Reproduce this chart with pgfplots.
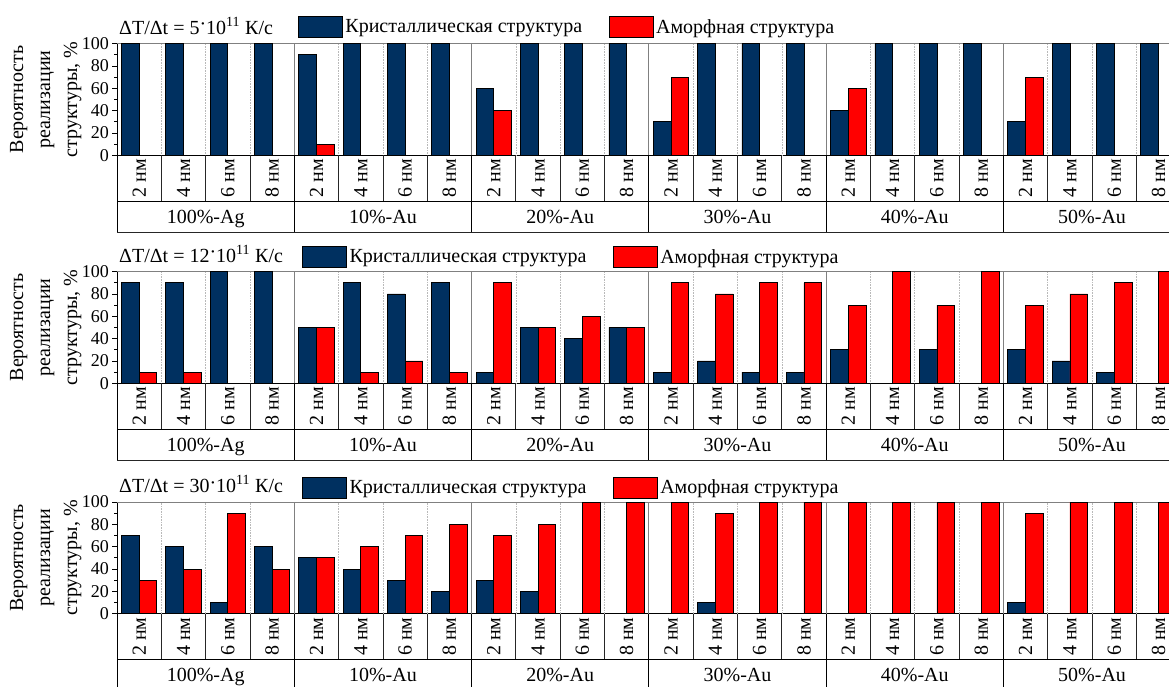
\documentclass[border=0pt]{standalone}
\usepackage{fontspec}
\setmainfont{Liberation Serif}
\usepackage{pgfplots}
\pgfplotsset{compat=1.18}
\usepackage{pgfplotstable}

\definecolor{navy}{RGB}{0,48,96}
\definecolor{ared}{RGB}{255,0,0}

% x: category index, c: crystalline, a: amorphous
\pgfplotstableread{
x c a
0 100 0
1 100 0
2 100 0
3 100 0
4 90 10
5 100 0
6 100 0
7 100 0
8 60 40
9 100 0
10 100 0
11 100 0
12 30 70
13 100 0
14 100 0
15 100 0
16 40 60
17 100 0
18 100 0
19 100 0
20 30 70
21 100 0
22 100 0
23 100 0
}\tabA

\pgfplotstableread{
x c a
0 90 10
1 90 10
2 100 0
3 100 0
4 50 50
5 90 10
6 80 20
7 90 10
8 10 90
9 50 50
10 40 60
11 50 50
12 10 90
13 20 80
14 10 90
15 10 90
16 30 70
17 0 100
18 30 70
19 0 100
20 30 70
21 20 80
22 10 90
23 0 100
}\tabB

\pgfplotstableread{
x c a
0 70 30
1 60 40
2 10 90
3 60 40
4 50 50
5 40 60
6 30 70
7 20 80
8 30 70
9 20 80
10 0 100
11 0 100
12 0 100
13 10 90
14 0 100
15 0 100
16 0 100
17 0 100
18 0 100
19 0 100
20 10 90
21 0 100
22 0 100
23 0 100
}\tabC

\newcommand{\fs}{\fontsize{20}{24}\selectfont}

\pgfplotsset{
  panel/.style={
    scale only axis, width=1052pt, height=111.7pt,
    anchor=south west,
    xmin=-0.5, xmax=23.236, ymin=0, ymax=100,
    ybar=0pt, bar width=17.7pt,
    clip mode=individual,
    axis x line*=bottom, axis y line*=left,
    axis line style={black, line width=0.8pt},
    tick align=outside,
    ytick={0,20,40,60,80,100}, minor y tick num=1,
    major tick length=5pt, minor tick length=3pt,
    ytick style={black, line width=0.8pt},
    xtick=\empty,
    yticklabel style={font=\fontsize{18}{20}\selectfont, inner sep=3pt},
    /pgf/number format/assume math mode=true,
    ylabel={Вероятность\\реализации\\структуры, \%},
    every axis y label/.style={at={(axis description cs:-0.0335,0.5)}, rotate=90, anchor=south, align=center, inner sep=0pt, font=\fontsize{20}{27}\selectfont},
    legend columns=2,
    legend style={anchor=west, draw=none, fill=none, inner sep=0pt, font=\fs,
      nodes={inner sep=2.5pt},
      /tikz/every even column/.append style={column sep=24pt}},
    every axis plot post/.append style={
      legend image code/.code={\draw[##1, line width=0.8pt] (0pt,-10.5pt) rectangle (44pt,10.5pt);}},
  },
  crys/.style={fill=navy, draw=black, line width=0.8pt},
  amor/.style={fill=ared, draw=black, line width=0.8pt},
}

\tikzset{catlab/.style={rotate=90, anchor=center, font=\fs, inner sep=0pt}}

\newcommand{\tablelines}{%
  \pgfplotsinvokeforeach{0.5,1.5,2.5,4.5,5.5,6.5,8.5,9.5,10.5,12.5,13.5,14.5,16.5,17.5,18.5,20.5,21.5,22.5}{%
    \draw[gray!55, densely dotted, line width=0.6pt] (axis cs:##1,0) -- (axis cs:##1,100);
    \draw[black!85, line width=0.8pt] (axis cs:##1,0) -- ([yshift=-46pt]axis cs:##1,0);
  }
  \pgfplotsinvokeforeach{3.5,7.5,11.5,15.5,19.5}{%
    \draw[gray, line width=0.8pt] (axis cs:##1,0) -- (axis cs:##1,100);
    \draw[black, line width=0.8pt] (axis cs:##1,0) -- ([yshift=-77.4pt]axis cs:##1,0);
  }
  \pgfplotsinvokeforeach{0,4,8,12,16,20}{\node[catlab] at ([yshift=-23pt]axis cs:##1,0) {2 нм};}
  \pgfplotsinvokeforeach{1,5,9,13,17,21}{\node[catlab] at ([yshift=-23pt]axis cs:##1,0) {4 нм};}
  \pgfplotsinvokeforeach{2,6,10,14,18,22}{\node[catlab] at ([yshift=-23pt]axis cs:##1,0) {6 нм};}
  \pgfplotsinvokeforeach{3,7,11,15,19,23}{\node[catlab] at ([yshift=-23pt]axis cs:##1,0) {8 нм};}
  \draw[gray, line width=0.8pt] (axis cs:-0.5,100) -- (axis cs:23.236,100);
  \draw[black, line width=0.8pt] (axis cs:-0.5,0) -- ([yshift=-77.4pt]axis cs:-0.5,0);
  \draw[black, line width=0.8pt] ([yshift=-46pt]axis cs:-0.5,0) -- ([yshift=-46pt]axis cs:23.236,0);
  \draw[black!85, line width=0.8pt] ([yshift=-77.4pt]axis cs:-0.5,0) -- ([yshift=-77.4pt]axis cs:23.236,0);
  \node[anchor=base, font=\fs] at ([yshift=-68pt]axis cs:1.5,0) {100\%-Ag};
  \node[anchor=base, font=\fs] at ([yshift=-68pt]axis cs:5.5,0) {10\%-Au};
  \node[anchor=base, font=\fs] at ([yshift=-68pt]axis cs:9.5,0) {20\%-Au};
  \node[anchor=base, font=\fs] at ([yshift=-68pt]axis cs:13.5,0) {30\%-Au};
  \node[anchor=base, font=\fs] at ([yshift=-68pt]axis cs:17.5,0) {40\%-Au};
  \node[anchor=base, font=\fs] at ([yshift=-68pt]axis cs:21.5,0) {50\%-Au};
}

\newcommand{\ptitle}[1]{%
  \node[anchor=base west, font=\fs, inner sep=0pt] at ([xshift=2pt,yshift=9.5pt]axis cs:-0.5,100)
    {ΔT/Δt = #1\raisebox{0.35ex}{·}10\textsuperscript{11} К/с};
}

\begin{document}
\begin{tikzpicture}
\begin{axis}[panel, at={(117pt,-155.3pt)},
  legend style={at={(axis description cs:0.172,1.15)}}]
  \tablelines
  \addplot[crys] table[x=x, y=c] {\tabA};
  \addplot[amor] table[x=x, y=a] {\tabA};
  \legend{Кристаллическая структура, Аморфная структура}
  \ptitle{5}
\end{axis}

\begin{axis}[panel, at={(117pt,-383.3pt)},
  legend style={at={(axis description cs:0.176,1.13)}}]
  \tablelines
  \addplot[crys] table[x=x, y=c] {\tabB};
  \addplot[amor] table[x=x, y=a] {\tabB};
  \legend{Кристаллическая структура, Аморфная структура}
  \ptitle{12}
\end{axis}

\begin{axis}[panel, at={(117pt,-613.7pt)},
  legend style={at={(axis description cs:0.176,1.13)}}]
  \tablelines
  \addplot[crys] table[x=x, y=c] {\tabC};
  \addplot[amor] table[x=x, y=a] {\tabC};
  \legend{Кристаллическая структура, Аморфная структура}
  \ptitle{30}
\end{axis}
\pgfresetboundingbox
\useasboundingbox (0pt,0pt) rectangle (1169pt,-687pt);
\end{tikzpicture}
\end{document}
